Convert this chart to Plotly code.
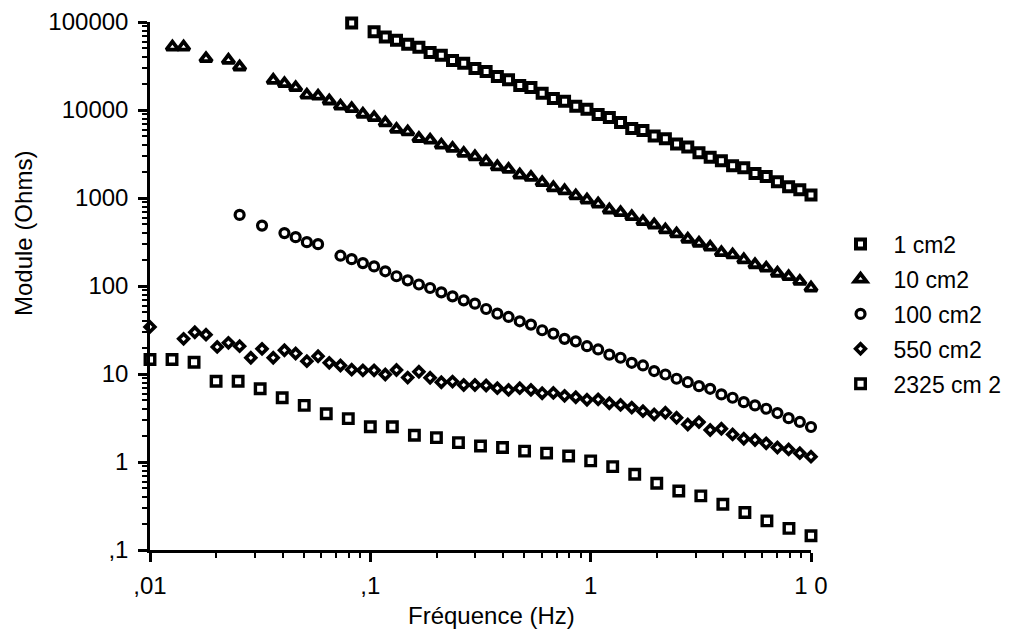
import plotly.graph_objects as go

# Frequency grid (Hz), ~20 points per decade, 0.01 .. 10
F60 = [0.01, 0.011240, 0.012637, 0.014207, 0.015972, 0.017956, 0.020187, 0.022694,
       0.025513, 0.028683, 0.032246, 0.036252, 0.040755, 0.045818, 0.051510, 0.057909,
       0.065103, 0.073191, 0.082283, 0.092505, 0.10400, 0.11692, 0.13144, 0.14777,
       0.16613, 0.18676, 0.20997, 0.23605, 0.26537, 0.29834, 0.33540, 0.37707,
       0.42391, 0.47657, 0.53577, 0.60233, 0.67716, 0.76128, 0.85585, 0.96216,
       1.0812, 1.2155, 1.3665, 1.5363, 1.7271, 1.9417, 2.1829, 2.4540,
       2.7589, 3.1016, 3.4869, 3.9200, 4.4070, 4.9545, 5.5699, 6.2618,
       7.0397, 7.9142, 8.8974, 10.0]

# Frequency grid (Hz), 10 points per decade, 0.01 .. 10
F31 = [0.01, 0.012589, 0.015849, 0.019953, 0.025119, 0.031623, 0.039811, 0.050119,
       0.063096, 0.079433, 0.1, 0.12589, 0.15849, 0.19953, 0.25119, 0.31623,
       0.39811, 0.50119, 0.63096, 0.79433, 1.0, 1.2589, 1.5849, 1.9953,
       2.5119, 3.1623, 3.9811, 5.0119, 6.3096, 7.9433, 10.0]

# 1 cm2
idx_1 = [18] + list(range(20, 60))
y_1 = [97500, 77500, 67600, 62000, 56000, 51700, 45000, 42000, 36600, 34000,
       29600, 27300, 24000, 22000, 19000, 18000, 15500, 13500, 12600, 11000,
       10200, 8900, 8200, 7200, 6180, 5850, 5060, 4720, 4120, 3800,
       3270, 2900, 2650, 2330, 2200, 1900, 1750, 1530, 1340, 1240, 1080]

# 10 cm2
idx_10 = [2, 3, 5, 7, 8] + list(range(11, 60))
y_10 = [52100, 52100, 38400, 36800, 30900,
        21800, 20000, 18000, 14800, 14400, 12700, 11100, 10400, 8980,
        8200, 7160, 6030, 5660, 4760, 4560, 4000, 3670, 3220, 2950,
        2590, 2270, 2120, 1830, 1720, 1500, 1310, 1210, 1060, 951,
        857, 733, 684, 616, 540, 495, 435, 392, 341, 307,
        277, 240, 226, 199, 175, 160, 140, 128, 113, 95]

# 100 cm2
idx_100 = [8, 10, 12, 13, 14, 15] + list(range(17, 60))
y_100 = [643, 486, 399, 359, 315, 299,
         221, 202, 182, 167, 147, 129, 116, 104, 94.9, 84.7,
         76.3, 68.7, 63.0, 54.8, 48.5, 44.5, 39.7, 36.4, 31.4, 28.8,
         25.1, 23.5, 20.7, 19.0, 16.6, 15.3, 13.4, 12.5, 10.8, 9.87,
         8.83, 8.07, 7.28, 6.79, 5.86, 5.37, 4.79, 4.40, 4.03, 3.6,
         3.15, 2.85, 2.5]

# 550 cm2
idx_550 = [0] + list(range(3, 60))
y_550 = [34.3, 25.1, 29.8, 28.0, 20.3, 22.6, 20.7, 15.3, 19.3, 15.3,
         18.6, 17.1, 14.0, 15.9, 13.4, 12.5, 11.2, 11.0, 11.0, 9.87,
         11.1, 9.1, 10.6, 9.06, 8.07, 8.2, 7.5, 7.5, 7.4, 6.9,
         6.6, 6.9, 6.6, 6.05, 6.1, 5.65, 5.45, 5.1, 5.15, 4.65,
         4.45, 4.15, 3.78, 3.47, 3.63, 3.18, 2.67, 2.84, 2.31, 2.39,
         2.06, 1.84, 1.78, 1.63, 1.46, 1.39, 1.26, 1.15]

# 2325 cm2 (on the 10/decade grid)
y_2325 = [14.6, 14.6, 13.6, 8.28, 8.28, 6.79, 5.37, 4.40, 3.54, 3.11,
          2.52, 2.52, 2.01, 1.89, 1.66, 1.52, 1.46, 1.33, 1.26, 1.17,
          1.03, 0.887, 0.726, 0.574, 0.469, 0.412, 0.331, 0.267, 0.214, 0.176,
          0.145]

names = ["1 cm2", "10 cm2", "100 cm2", "550 cm2", "2325 cm 2"]

x_tickvals = [0.01, 0.1, 1, 10]
x_ticktext = [",01", ",1", "1", "1 0"]
y_tickvals = [0.1, 1, 10, 100, 1000, 10000, 100000]
y_ticktext = [",1", "1", "10", "100", "1000", "10000", "100000"]

FONT = "Liberation Sans, Arial, Helvetica, sans-serif"

series = [
    ([F60[i] for i in idx_1], y_1, "square", 9, 4.0),
    ([F60[i] for i in idx_10], y_10, "triangle-up", 10.5, 3.8),
    ([F60[i] for i in idx_100], y_100, "circle", 9, 3.2),
    ([F60[i] for i in idx_550], y_550, "diamond", 7.5, 3.6),
    (F31, y_2325, "square", 9.5, 3.4),
]

fig = go.Figure()
for (xs, ys, sym, size, lw), name in zip(series, names):
    fig.add_trace(go.Scatter(
        x=xs, y=ys, mode="markers", name=name, legendgroup=name,
        cliponaxis=False,
        marker=dict(symbol=sym, size=size, color="white",
                    line=dict(color="black", width=lw)),
    ))

def minor_vals(lo, hi):
    out = []
    d = lo
    while d < hi:
        for m in range(2, 10):
            out.append(m * d)
        d *= 10
    return out

PL, PT, PW, PH = 142, 14, 661, 528   # plot area in figure pixels
W, H = 1011, 629

def px_x(x):
    return (x - 8 - PL) / PW

def px_y(y):
    return (PT + PH - (y - 8)) / PH

fig.update_layout(
    width=W, height=H,
    paper_bgcolor="white", plot_bgcolor="white",
    margin=dict(l=PL, r=W - PL - PW, t=PT, b=H - PT - PH, autoexpand=False),
    font=dict(family=FONT, size=24, color="black"),
    showlegend=True,
    legend=dict(x=1.025, xanchor="left", y=0.62, yanchor="top",
                font=dict(family=FONT, size=23, color="black"),
                tracegroupgap=2, itemsizing="trace", itemwidth=56,
                bgcolor="rgba(0,0,0,0)"),
    xaxis=dict(
        type="log", range=[-2, 1], showgrid=False, zeroline=False,
        automargin=False,
        showline=True, linecolor="black", linewidth=2.5,
        tickmode="array", tickvals=x_tickvals, ticktext=x_ticktext,
        ticks="outside", ticklen=9, tickwidth=2.5, tickcolor="black",
        ticklabelstandoff=3,
        tickfont=dict(family=FONT, size=24, color="black"),
        minor=dict(tickmode="array", tickvals=minor_vals(0.01, 10),
                   ticks="outside", ticklen=5, tickwidth=2, tickcolor="black",
                   showgrid=False),
    ),
    yaxis=dict(
        type="log", range=[-1, 5], showgrid=False, zeroline=False,
        automargin=False,
        showline=True, linecolor="black", linewidth=2.5,
        tickmode="array", tickvals=y_tickvals, ticktext=y_ticktext,
        ticks="outside", ticklen=9, tickwidth=2.5, tickcolor="black",
        ticklabelstandoff=5,
        tickfont=dict(family=FONT, size=24, color="black"),
        minor=dict(tickmode="array", tickvals=minor_vals(0.1, 100000),
                   ticks="outside", ticklen=5, tickwidth=2, tickcolor="black",
                   showgrid=False),
    ),
    annotations=[
        dict(text="Fréquence (Hz)", xref="paper", yref="paper",
             x=px_x(492), y=px_y(615), xanchor="center", yanchor="middle",
             showarrow=False, font=dict(family=FONT, size=24, color="black")),
        dict(text="Module (Ohms)", xref="paper", yref="paper",
             x=px_x(23), y=px_y(234), xanchor="center", yanchor="middle",
             textangle=-90,
             showarrow=False, font=dict(family=FONT, size=24, color="black")),
    ],
)

fig.write_html("out.html")
